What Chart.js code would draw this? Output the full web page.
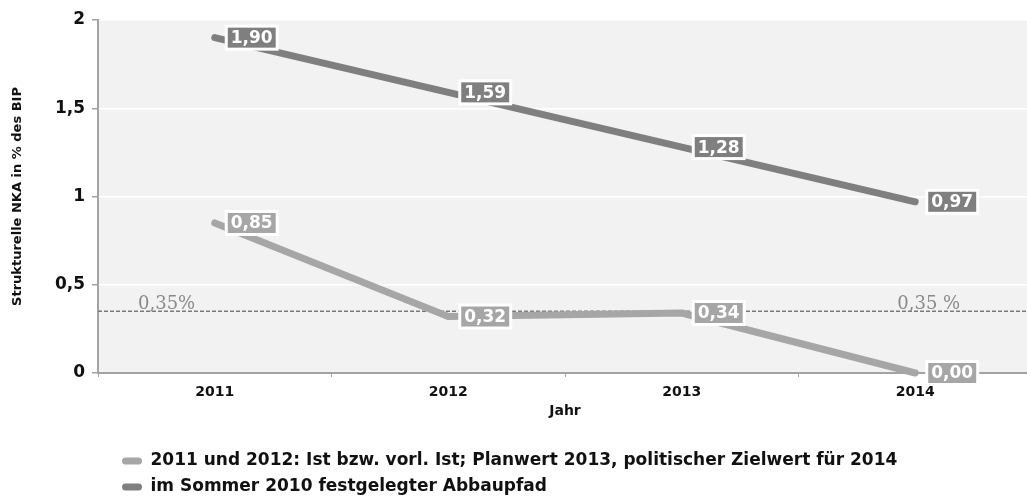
<!DOCTYPE html>
<html lang="de">
<head>
<meta charset="utf-8">
<title>Strukturelle NKA</title>
<script src="https://cdn.jsdelivr.net/npm/chart.js@4/dist/chart.umd.min.js"></script>
<style>
  html, body { margin: 0; padding: 0; background: #fff; overflow: hidden; }
  #wrap { position: relative; width: 1034px; height: 497px; }
</style>
</head>
<body>
<div id="wrap"><canvas id="chart"></canvas></div>
<script>
const YEARS = ['2011', '2012', '2013', '2014'];
const IST_VALUES = [0.85, 0.32, 0.34, 0.00];
const PFAD_VALUES = [1.90, 1.59, 1.28, 0.97];
const SERIES_NAMES = [
  '2011 und 2012: Ist bzw. vorl. Ist; Planwert 2013, politischer Zielwert für 2014',
  'im Sommer 2010 festgelegter Abbaupfad',
];
const Y_TICKS = [0, 0.5, 1, 1.5, 2];
const ZIEL_VALUE = 0.35;
const ZIEL_LABELS = ['0,35%', '0,35 %'];

const LIGHT = '#a6a6a6';
const DARK = '#7f7f7f';
const AXIS = '#a3a3a3';
const PLOT_BG = '#f2f2f2';

const fmt = (v) => v.toFixed(2).replace('.', ',');
const fmtTick = (v) => String(v).replace('.', ',');

// grey plot background
const plotBackground = {
  id: 'plotBackground',
  beforeDraw(chart) {
    const { ctx, chartArea: a } = chart;
    ctx.save();
    ctx.fillStyle = PLOT_BG;
    ctx.fillRect(a.left, a.top, a.right - a.left, a.bottom - a.top);
    ctx.restore();
  },
};

// dashed target line with its two captions
const zielLinie = {
  id: 'zielLinie',
  beforeDatasetsDraw(chart) {
    const { ctx, chartArea: a, scales: { x, y } } = chart;
    const py = y.getPixelForValue(ZIEL_VALUE);
    ctx.save();
    ctx.strokeStyle = '#7a7a7a';
    ctx.lineWidth = 1.3;
    ctx.setLineDash([4, 2]);
    ctx.beginPath();
    ctx.moveTo(a.left, py);
    ctx.lineTo(a.right, py);
    ctx.stroke();
    ctx.setLineDash([]);
    ctx.font = '18px "DejaVu Serif"';
    ctx.fillStyle = '#8a8a8a';
    ctx.textBaseline = 'alphabetic';
    ctx.textAlign = 'left';
    ctx.fillText(ZIEL_LABELS[0], a.left + 40, py - 2);
    ctx.fillText(ZIEL_LABELS[1], x.getPixelForValue(3) - 18, py - 2);
    ctx.restore();
  },
};

// value boxes to the right of each point
const wertBoxen = {
  id: 'wertBoxen',
  afterDatasetsDraw(chart) {
    const { ctx } = chart;
    ctx.save();
    ctx.font = 'bold 17px "DejaVu Sans"';
    ctx.textBaseline = 'middle';
    ctx.textAlign = 'center';
    chart.data.datasets.forEach((ds, di) => {
      const meta = chart.getDatasetMeta(di);
      meta.data.forEach((pt, i) => {
        const text = fmt(ds.data[i]);
        const tw = ctx.measureText(text).width;
        const w = tw + 12;
        const h = 26;
        const left = pt.x + 10;
        const top = pt.y - h / 2;
        ctx.fillStyle = '#ffffff';
        ctx.fillRect(left, top, w, h);
        ctx.fillStyle = ds.borderColor;
        ctx.fillRect(left + 3, top + 3, w - 6, h - 6);
        ctx.fillStyle = '#ffffff';
        ctx.fillText(text, left + w / 2, pt.y + 1);
      });
    });
    ctx.restore();
  },
};

// move the legend block under the plot
const legendPlacement = {
  id: 'legendPlacement',
  afterLayout(chart) {
    chart.legend.left += 113;
    chart.legend.top += 8.5;
  },
};

const lineStyle = {
  borderWidth: 7,
  borderCapStyle: 'round',
  borderJoinStyle: 'round',
  pointRadius: 0,
  pointHoverRadius: 0,
  tension: 0,
  clip: false,
};

new Chart(document.getElementById('chart'), {
  type: 'line',
  data: {
    labels: YEARS,
    datasets: [
      { label: SERIES_NAMES[0], data: IST_VALUES, borderColor: LIGHT, backgroundColor: LIGHT, ...lineStyle },
      { label: SERIES_NAMES[1], data: PFAD_VALUES, borderColor: DARK, backgroundColor: DARK, ...lineStyle },
    ],
  },
  options: {
    responsive: true,
    maintainAspectRatio: false,
    animation: false,
    layout: { padding: { top: 20, right: 2, left: 0, bottom: 0 } },
    plugins: {
      tooltip: { enabled: false },
      legend: {
        position: 'bottom',
        align: 'start',
        labels: {
          color: '#111',
          font: { family: 'DejaVu Sans', size: 17, weight: 'bold' },
          boxWidth: 20,
          boxHeight: 7,
          padding: 9,
          useBorderRadius: true,
          borderRadius: 3.5,
          generateLabels(chart) {
            return Chart.defaults.plugins.legend.labels.generateLabels(chart)
              .map((l) => ({ ...l, lineWidth: 0, borderRadius: 3.5 }));
          },
        },
      },
    },
    scales: {
      x: {
        offset: true,
        grid: { offset: true, drawOnChartArea: false, tickLength: 4, tickColor: AXIS },
        border: { color: AXIS, width: 2 },
        ticks: { color: '#111', font: { family: 'DejaVu Sans', size: 14, weight: 'bold' }, padding: 7 },
        title: {
          display: true,
          text: 'Jahr',
          color: '#111',
          font: { family: 'DejaVu Sans', size: 14, weight: 'bold' },
          padding: { top: 0, bottom: 15 },
        },
        afterFit(scale) { scale.height = 62; },
      },
      y: {
        min: 0,
        max: 2,
        afterBuildTicks(scale) { scale.ticks = Y_TICKS.map((v) => ({ value: v })); },
        grid: { color: '#ffffff', lineWidth: 1.5, tickLength: 6, tickColor: AXIS },
        border: { color: AXIS, width: 2 },
        ticks: {
          color: '#111',
          font: { family: 'DejaVu Sans', size: 17, weight: 'bold' },
          padding: 7,
          callback: (v) => fmtTick(v),
        },
        title: {
          display: true,
          text: 'Strukturelle NKA in % des BIP',
          color: '#111',
          font: { family: 'DejaVu Sans', size: 13, weight: 'bold' },
          padding: { top: 10, bottom: 0 },
        },
        afterFit(scale) { scale.width = 98; },
      },
    },
  },
  plugins: [plotBackground, zielLinie, wertBoxen, legendPlacement],
});
</script>
</body>
</html>
